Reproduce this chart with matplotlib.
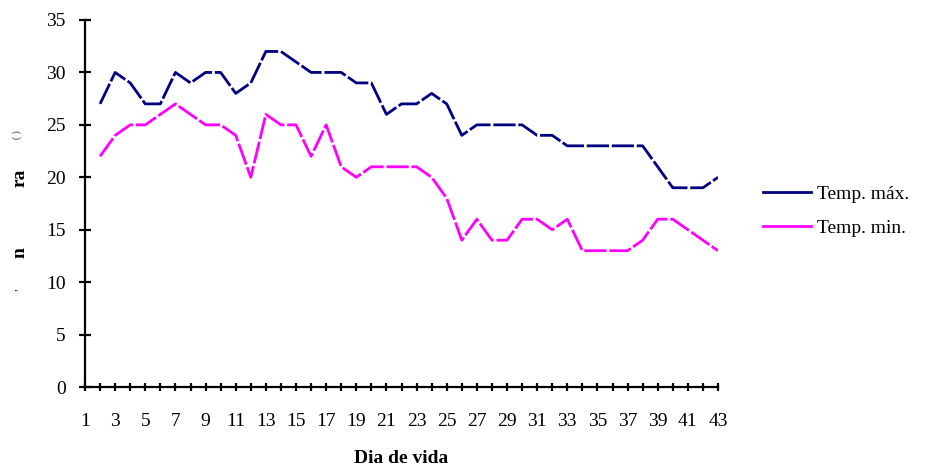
import matplotlib
matplotlib.use("Agg")
import matplotlib.pyplot as plt
from matplotlib.lines import Line2D

plt.rcParams['font.family'] = ['Liberation Serif', 'DejaVu Serif']

days = list(range(2, 44))
temp_max = [27, 30, 29, 27, 27, 30, 29, 30, 30, 28, 29, 32, 32, 31, 30, 30, 30,
            29, 29, 26, 27, 27, 28, 27, 24, 25, 25, 25, 25, 24, 24, 23, 23, 23,
            23, 23, 23, 21, 19, 19, 19, 20]
temp_min = [22, 24, 25, 25, 26, 27, 26, 25, 25, 24, 20, 26, 25, 25, 22, 25, 21,
            20, 21, 21, 21, 21, 20, 18, 14, 16, 14, 14, 16, 16, 15, 16, 13, 13,
            13, 13, 14, 16, 16, 15, 14, 13]
x_ticks_labeled = list(range(1, 44, 2))
y_ticks = list(range(0, 36, 5))

fig = plt.figure(figsize=(9.25, 4.71), dpi=100)
ax = fig.add_axes([85 / 925, 1 - 387 / 471, (718 - 85) / 925, (387 - 20) / 471])

dash = (0, (8, 1.0))
ax.plot(days, temp_max, color='#000080', lw=2.0, linestyle=dash,
        dash_capstyle='butt')
ax.plot(days, temp_min, color='#FF00FF', lw=2.0, linestyle=dash,
        dash_capstyle='butt')

ax.set_xlim(1, 43)
ax.set_ylim(0, 35)
for s in ['top', 'right']:
    ax.spines[s].set_visible(False)
for s in ['left', 'bottom']:
    ax.spines[s].set_linewidth(1.6)

ax.set_yticks(y_ticks)
ax.set_xticks(range(1, 44))
ax.set_xticklabels([str(d) if d in x_ticks_labeled else '' for d in range(1, 44)])
ax.tick_params(axis='y', direction='inout', length=8, width=1.6, labelsize=14, pad=10)
ax.tick_params(axis='x', direction='inout', length=6, width=1.6, labelsize=14, pad=16)

ax.set_xlabel('Dia de vida', fontsize=14, fontweight='bold', labelpad=14)

# legend entries drawn as proxy lines
handles = [Line2D([], [], color='#000080', lw=2.0),
           Line2D([], [], color='#FF00FF', lw=2.0)]
fig.legend(handles, ['Temp. máx.', 'Temp. min.'], loc='center left',
           bbox_to_anchor=(745 / 925, 1 - 211 / 471), frameon=False,
           fontsize=14, handlelength=2.5, handletextpad=0.3, labelspacing=0.85)

# partially visible rotated axis title
fig.text(20 / 925, 1 - 178 / 471, 'ra', rotation=90, fontsize=14,
         fontweight='bold', ha='center', va='center')
fig.text(20 / 925, 1 - 253 / 471, 'n', rotation=90, fontsize=14,
         fontweight='bold', ha='center', va='center')
fig.text(17 / 925, 1 - 135 / 471, '( )', rotation=90, fontsize=7,
         ha='center', va='center', color='#333333')
fig.text(13 / 925, 1 - 290 / 471, ',', rotation=90, fontsize=8,
         ha='center', va='center')

fig.savefig('out.png', dpi=100)
